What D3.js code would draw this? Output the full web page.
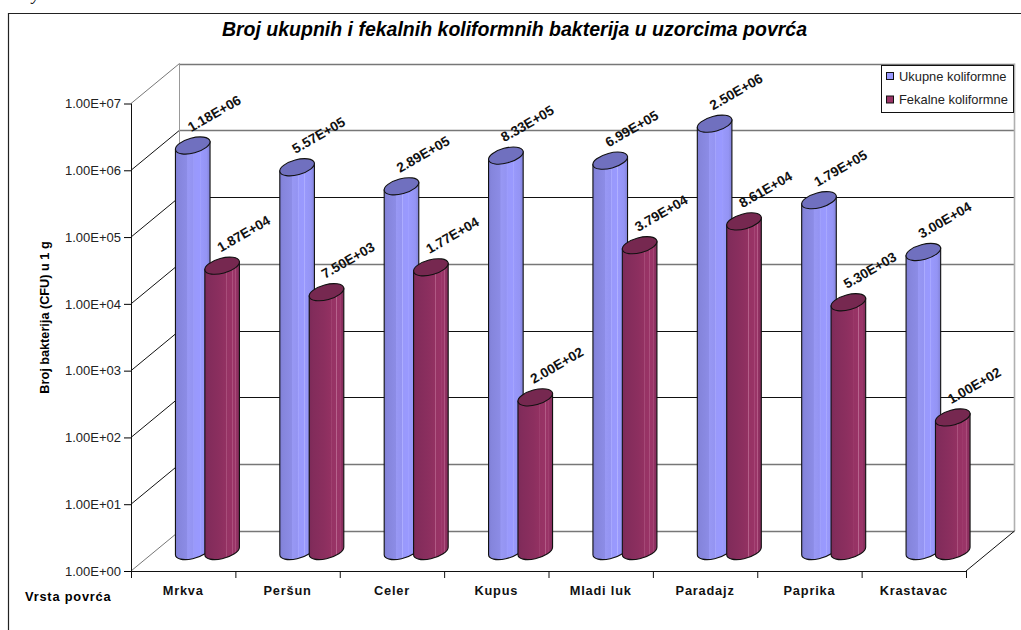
<!DOCTYPE html>
<html>
<head>
<meta charset="utf-8">
<script src="https://d3js.org/d3.v7.min.js"></script>
<style>
    body { margin: 0; background: #fff; overflow: hidden; }
    svg { display: block; font-family: "Liberation Sans", Arial, sans-serif; }
    .domain { stroke: #111; }
</style>
</head>
<body>
<div id="chart"></div>
<script>
// Chart values
var categories = ["Mrkva", "Peršun", "Celer", "Kupus", "Mladi luk", "Paradajz", "Paprika", "Krastavac"];
var ukupne = [1.18e6, 5.57e5, 2.89e5, 8.33e5, 6.99e5, 2.50e6, 1.79e5, 3.00e4];
var fekalne = [1.87e4, 7.50e3, 1.77e4, 2.00e2, 3.79e4, 8.61e4, 5.30e3, 1.00e2];
var seriesNames = ["Ukupne koliformne", "Fekalne koliformne"];
var decades = [1, 1e1, 1e2, 1e3, 1e4, 1e5, 1e6, 1e7];

var svgWidth = 1021;
var svgHeight = 630;

// Front plane of the 3D box, and how far back the back wall sits
var front = { left: 131, right: 966, top: 103.5, bottom: 571 };
var depth = { x: 48.5, y: -40 };

var svg = d3.select("#chart")
    .append("svg")
    .attr("width", svgWidth)
    .attr("height", svgHeight);

var xScale = d3.scaleBand()
    .domain(categories)
    .range([front.left, front.right]);

var yScale = d3.scaleLog()
    .domain([1, 1e7])
    .range([front.bottom, front.top]);

// 1.18e+6 -> 1.18E+06
function sciFormat(v) {
    return v.toExponential(2).replace(/e([+-])(\d)$/, "e$10$2").toUpperCase();
}

// Gradients for the cylinders
var defs = svg.append("defs");

function addGradient(id, stops) {
    var grad = defs.append("linearGradient").attr("id", id);
    stops.forEach(function (s) {
        grad.append("stop").attr("offset", s[0]).attr("stop-color", s[1]);
    });
}

addGradient("blueBar", [
    [0, "#7d7dd4"], [0.08, "#8585dc"], [0.34, "#8c8ce6"], [0.35, "#9898f4"], [0.5, "#9494f2"],
    [0.52, "#9696f6"], [0.53, "#aeaeff"], [0.55, "#9999fb"], [0.7, "#9999ff"], [0.71, "#b0b0ff"],
    [0.73, "#9999fc"], [0.9, "#9494f4"], [1, "#8282d8"]
]);
addGradient("redBar", [
    [0, "#7c2a58"], [0.1, "#822c5b"], [0.45, "#8c2f5f"], [0.62, "#933162"], [0.63, "#b5608a"],
    [0.65, "#963364"], [0.78, "#993366"], [0.79, "#bb6a92"], [0.81, "#9a3467"], [0.88, "#9a3568"],
    [0.89, "#b35a86"], [0.91, "#953264"], [1, "#7f2b59"]
]);

// Chart border, runs off the page on the right and bottom
svg.append("path")
    .attr("d", `M8.5,${svgHeight} V13.5 H${svgWidth}`)
    .attr("fill", "none")
    .attr("stroke", "#222")
    .attr("stroke-width", 1.2);

// Cut off line of the text above the chart
svg.append("text")
    .attr("x", 32)
    .attr("y", 0)
    .attr("font-family", "Liberation Serif")
    .attr("font-style", "italic")
    .attr("font-size", 17)
    .text("y");

svg.append("text")
    .attr("x", 514.5)
    .attr("y", 36)
    .attr("text-anchor", "middle")
    .attr("font-size", 19.5)
    .attr("font-weight", "bold")
    .attr("font-style", "italic")
    .text("Broj ukupnih i fekalnih koliformnih bakterija u uzorcima povrća");

// Back wall gridlines and side wall lines
var darkGrid = [1e2, 1e3, 1e5];
var walls = svg.append("g");

walls.selectAll("line.grid")
    .data(decades)
    .enter()
    .append("line")
    .attr("class", "grid")
    .attr("x1", front.left + depth.x)
    .attr("x2", front.right + depth.x)
    .attr("y1", d => Math.round(yScale(d) + depth.y) + 0.5)
    .attr("y2", d => Math.round(yScale(d) + depth.y) + 0.5)
    .attr("stroke", d => darkGrid.includes(d) ? "#111" : "#777")
    .attr("stroke-width", d => darkGrid.includes(d) ? 1 : 1.4);

walls.selectAll("line.side")
    .data(decades)
    .enter()
    .append("line")
    .attr("class", "side")
    .attr("x1", front.left)
    .attr("x2", front.left + depth.x)
    .attr("y1", d => yScale(d))
    .attr("y2", d => yScale(d) + depth.y)
    .attr("stroke", (d, i) => (i === 0 || i === 7) ? "#777" : "#111");

// back edge on the left, right wall edge, floor edge
walls.append("line")
    .attr("x1", front.left + depth.x).attr("x2", front.left + depth.x)
    .attr("y1", front.top + depth.y).attr("y2", front.bottom + depth.y)
    .attr("stroke", "#999");

walls.append("line")
    .attr("x1", front.right + depth.x).attr("x2", front.right + depth.x)
    .attr("y1", front.top + depth.y).attr("y2", front.bottom + depth.y)
    .attr("stroke", "#b0b0b0")
    .attr("stroke-width", 1.6);

walls.append("line")
    .attr("x1", front.right).attr("x2", front.right + depth.x)
    .attr("y1", front.bottom).attr("y2", front.bottom + depth.y)
    .attr("stroke", "#111");

// Axes
var leftAxis = d3.axisLeft(yScale)
    .tickValues(decades)
    .tickFormat(sciFormat)
    .tickSize(7)
    .tickPadding(3);

var yAxis = svg.append("g")
    .attr("transform", `translate(${front.left}, 0)`)
    .call(leftAxis);
yAxis.select(".domain").attr("d", `M0.5,${front.top} V${front.bottom}`);
yAxis.selectAll("text")
    .attr("font-family", "Liberation Sans")
    .attr("font-size", 13)
    .attr("fill", "#222");

var bottomAxis = d3.axisBottom(xScale)
    .tickSize(0)
    .tickPadding(15);

var xAxis = svg.append("g")
    .attr("transform", `translate(0, ${front.bottom})`)
    .call(bottomAxis);
xAxis.select(".domain").attr("d", `M${front.left},0.5 H${front.right}`);
xAxis.selectAll("text")
    .attr("font-family", "Liberation Sans")
    .attr("font-size", 12.8)
    .attr("font-weight", "bold")
    .attr("letter-spacing", 0.8)
    .attr("fill", "#111");

// Excel puts the ticks between the categories
xAxis.selectAll("line.edge")
    .data(categories.concat(["end"]))
    .enter()
    .append("line")
    .attr("class", "edge")
    .attr("x1", (d, i) => front.left + i * xScale.bandwidth() + 0.5)
    .attr("x2", (d, i) => front.left + i * xScale.bandwidth() + 0.5)
    .attr("y1", 0)
    .attr("y2", 7)
    .attr("stroke", "#111");

svg.append("text")
    .attr("x", 25)
    .attr("y", 601)
    .attr("font-size", 12.8)
    .attr("font-weight", "bold")
    .attr("letter-spacing", 0.8)
    .text("Vrsta povrća");

svg.append("text")
    .attr("transform", "translate(48.5, 317.5) rotate(-90)")
    .attr("text-anchor", "middle")
    .attr("font-size", 12.7)
    .attr("font-weight", "bold")
    .text("Broj bakterija (CFU) u 1 g");

// Cylinders stand half way into the box
var rx = 17.8;
var ry = 7.5;
var tilt = -15;
var barOffset = 14.7;
var rad = tilt * Math.PI / 180;
var t = Math.atan2(-ry * Math.sin(rad), rx * Math.cos(rad));
var edgeX = rx * Math.cos(t) * Math.cos(rad) - ry * Math.sin(t) * Math.sin(rad);
var edgeY = rx * Math.cos(t) * Math.sin(rad) + ry * Math.sin(t) * Math.cos(rad);

function barCenter(i, s) {
    return xScale(categories[i]) + xScale.bandwidth() / 2 + depth.x / 2 + (s === 0 ? -barOffset : barOffset);
}

function barTop(v) {
    return yScale(v) + depth.y / 2;
}

function bodyPath(cx, topY) {
    var baseY = yScale(1) + depth.y / 2;
    return `M${cx - edgeX},${topY - edgeY} L${cx - edgeX},${baseY - edgeY}`
        + ` A${rx},${ry} ${tilt} 0 0 ${cx + edgeX},${baseY + edgeY}`
        + ` L${cx + edgeX},${topY + edgeY} Z`;
}

var barRows = categories.map((c, i) => [
    { s: 0, i: i, v: ukupne[i] },
    { s: 1, i: i, v: fekalne[i] }
]);

var barGroups = svg.selectAll("g.pair")
    .data(barRows)
    .enter()
    .append("g")
    .attr("class", "pair")
    .selectAll("g")
    .data(d => d)
    .enter()
    .append("g");

barGroups.append("path")
    .attr("d", d => bodyPath(barCenter(d.i, d.s), barTop(d.v)))
    .attr("fill", d => d.s === 0 ? "url(#blueBar)" : "url(#redBar)")
    .attr("stroke", "#111")
    .attr("stroke-width", 1.1);

barGroups.append("ellipse")
    .attr("rx", rx)
    .attr("ry", ry)
    .attr("transform", d => `translate(${barCenter(d.i, d.s)}, ${barTop(d.v)}) rotate(${tilt})`)
    .attr("fill", d => d.s === 0 ? "#7070bf" : "#762850")
    .attr("stroke", "#111")
    .attr("stroke-width", 1.1);

// Data labels go on top of every bar
svg.selectAll("text.value")
    .data(barRows.flat())
    .enter()
    .append("text")
    .attr("class", "value")
    .attr("transform", d => `translate(${barCenter(d.i, d.s) + 21.5}, ${barTop(d.v) - 32}) rotate(-30)`)
    .attr("text-anchor", "middle")
    .attr("dy", "0.35em")
    .attr("font-size", 13.6)
    .attr("font-weight", "bold")
    .attr("fill", "#111")
    .text(d => sciFormat(d.v));

// Legend
var legend = svg.append("g")
    .attr("transform", "translate(881.5, 65.5)");

legend.append("rect")
    .attr("width", 132)
    .attr("height", 47)
    .attr("fill", "#fff")
    .attr("stroke", "#111");

var legendItem = legend.selectAll("g")
    .data(seriesNames)
    .enter()
    .append("g")
    .attr("transform", (d, i) => `translate(5, ${7 + i * 23.5})`);

legendItem.append("rect")
    .attr("width", 7)
    .attr("height", 7)
    .attr("fill", (d, i) => i === 0 ? "#9999ff" : "#993366")
    .attr("stroke", "#111");

legendItem.append("text")
    .attr("x", 12.5)
    .attr("y", 8)
    .attr("font-size", 12.9)
    .attr("fill", "#222")
    .text(d => d);
</script>
</body>
</html>
